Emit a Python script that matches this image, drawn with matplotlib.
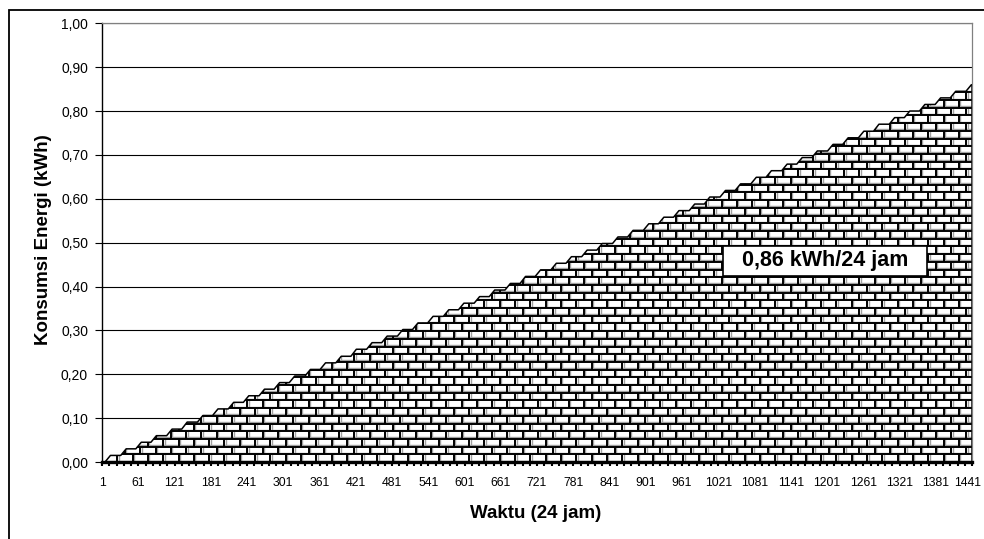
import numpy as np
import matplotlib
matplotlib.use("Agg")
import matplotlib.pyplot as plt
import matplotlib.transforms as mtransforms
from matplotlib.collections import LineCollection
from matplotlib.patches import Rectangle
from matplotlib.ticker import FuncFormatter, FixedLocator

plt.rcParams['font.family'] = ['Liberation Sans', 'DejaVu Sans']

# Minute (1..1441) at which each 0.0151 kWh meter step is completed
step_end_minute = [15, 41, 66, 91, 117, 142, 168, 193, 219, 244, 270, 295, 320,
                   346, 371, 397, 422, 448, 473, 499, 524, 549, 575, 600, 626,
                   651, 677, 702, 727, 753, 778, 804, 829, 855, 880, 906, 931,
                   956, 982, 1007, 1033, 1058, 1084, 1109, 1135, 1160, 1185,
                   1211, 1236, 1262, 1287, 1313, 1338, 1363, 1389, 1414, 1440]
# Cumulative energy (kWh) after each step
step_level = [0.015, 0.030, 0.045, 0.060, 0.075, 0.091, 0.106, 0.121, 0.136,
              0.151, 0.166, 0.181, 0.196, 0.211, 0.226, 0.241, 0.257, 0.272,
              0.287, 0.302, 0.317, 0.332, 0.347, 0.362, 0.377, 0.392, 0.407,
              0.423, 0.438, 0.453, 0.468, 0.483, 0.498, 0.513, 0.528, 0.543,
              0.558, 0.573, 0.588, 0.604, 0.619, 0.634, 0.649, 0.664, 0.679,
              0.694, 0.709, 0.724, 0.739, 0.754, 0.770, 0.785, 0.800, 0.815,
              0.830, 0.845, 0.860]
ramp_minutes = 9          # duration of each rise
x_first, x_last = 1, 1441
x_tick_labels = list(range(1, 1442, 60))
y_ticks = [0.0, 0.1, 0.2, 0.3, 0.4, 0.5, 0.6, 0.7, 0.8, 0.9, 1.0]
annotation = "0,86 kWh/24 jam"
x_title = "Waktu (24 jam)"
y_title = "Konsumsi Energi (kWh)"

# Staircase outline of the cumulative consumption
xs, ys = [x_first], [0.0]
prev = 0.0
for t_end, lvl in zip(step_end_minute, step_level):
    xs += [t_end - ramp_minutes, t_end]
    ys += [prev, lvl]
    prev = lvl
xs.append(x_last)
ys.append(prev)
xs = np.array(xs, float)
ys = np.array(ys, float)

W, H = 984, 539
fig = plt.figure(figsize=(W / 100, H / 100), dpi=100)
L, R, T, B = 102, 972, 23.3, 462
ax = fig.add_axes([L / W, 1 - B / H, (R - L) / W, (B - T) / H])
ax.set_xlim(x_first, x_last)
ax.set_ylim(0, 1.0)

# Outer chart frame (runs off the right and bottom edges)
fig.patches.append(Rectangle((8.5 / W, -0.2), 1.5, 1.2 - 10 / H,
                             transform=fig.transFigure, fill=False,
                             edgecolor='black', linewidth=1.3))

# Grid lines
for yv in y_ticks[1:]:
    ax.axhline(yv, color='black', linewidth=0.8, zorder=1)

# Area fill
poly = ax.fill_between(xs, ys, 0, facecolor='white', edgecolor='none', zorder=2)
clip_path = poly.get_paths()[0]

# Brick pattern (axes coordinates)
row_h = 7.7 / (B - T)
brick_w = 15.3 / (R - L)
h_black, h_gray, v_black, v_gray = [], [], [], []
dy_px = 1.5 / (B - T)
dx_px = 1.5 / (R - L)
nrows = int(1 / row_h) + 2
for k in range(nrows):
    y0 = k * row_h
    h_black.append([(0, y0), (1, y0)])
    h_gray.append([(0, y0 + dy_px), (1, y0 + dy_px)])
    off = 0.0 if k % 2 == 0 else brick_w / 2
    xv = off
    while xv < 1.0 + brick_w:
        v_black.append([(xv, y0), (xv, y0 + row_h)])
        v_gray.append([(xv + dx_px, y0), (xv + dx_px, y0 + row_h)])
        xv += brick_w
for segs, col, lw in [(h_gray, '#a0a0a0', 1.0), (v_gray, '#a0a0a0', 1.0),
                      (h_black, 'black', 1.4), (v_black, 'black', 1.4)]:
    lc = LineCollection(segs, colors=col, linewidths=lw, transform=ax.transAxes,
                        zorder=3)
    lc.set_clip_path(clip_path, ax.transData)
    ax.add_collection(lc)

# Outline of the area
ax.plot(np.r_[xs, x_last], np.r_[ys, 0], color='black', linewidth=1.1, zorder=4)

# Axes styling
for side in ['top', 'right']:
    ax.spines[side].set_color('#808080')
    ax.spines[side].set_linewidth(0.9)
ax.spines['left'].set_color('black')
ax.spines['left'].set_linewidth(1.0)
ax.spines['bottom'].set_color('black')
ax.spines['bottom'].set_linewidth(2.4)
for s in ax.spines.values():
    s.set_zorder(5)

ax.yaxis.set_major_locator(FixedLocator(y_ticks))
ax.yaxis.set_major_formatter(FuncFormatter(lambda v, p: f"{v:.2f}".replace('.', ',')))
ax.tick_params(axis='y', direction='out', length=5, width=0.8, pad=5,
               labelsize=10, colors='black')
ax.xaxis.set_major_locator(FixedLocator(x_tick_labels))
ax.xaxis.set_major_formatter(FuncFormatter(lambda v, p: f"{int(round(v))}"))
ax.xaxis.set_minor_locator(FixedLocator(np.arange(x_first, x_last + 1, 12)))
ax.tick_params(axis='x', which='major', direction='out', length=3, width=1.5,
               pad=8, labelsize=8.8, colors='black')
ax.tick_params(axis='x', which='minor', direction='out', length=3, width=1.5,
               colors='black')

# Keep the last time label inside the figure
fig.canvas.draw()
last_lbl = ax.get_xticklabels()[-1]
last_lbl.set_transform(last_lbl.get_transform() +
                       mtransforms.ScaledTranslation(-4 / 100, 0, fig.dpi_scale_trans))

# Axis titles
fig.text(44 / W, 1 - 240 / H, y_title, rotation=90, ha='center', va='center',
         fontsize=13.5, fontweight='bold')
fig.text(536 / W, 1 - 513 / H, x_title, ha='center', va='center',
         fontsize=13.5, fontweight='bold')

# Total consumption label
ax.add_patch(Rectangle(((723 - L) / (R - L), (B - 276) / (B - T)),
                       204 / (R - L), 30 / (B - T), transform=ax.transAxes,
                       facecolor='white', edgecolor='black', linewidth=1.2,
                       zorder=6))
ax.text((825 - L) / (R - L), (B - 261) / (B - T), annotation,
        transform=ax.transAxes, ha='center', va='center',
        fontsize=15.5, fontweight='bold', zorder=7)

fig.savefig("out.png", dpi=100)
